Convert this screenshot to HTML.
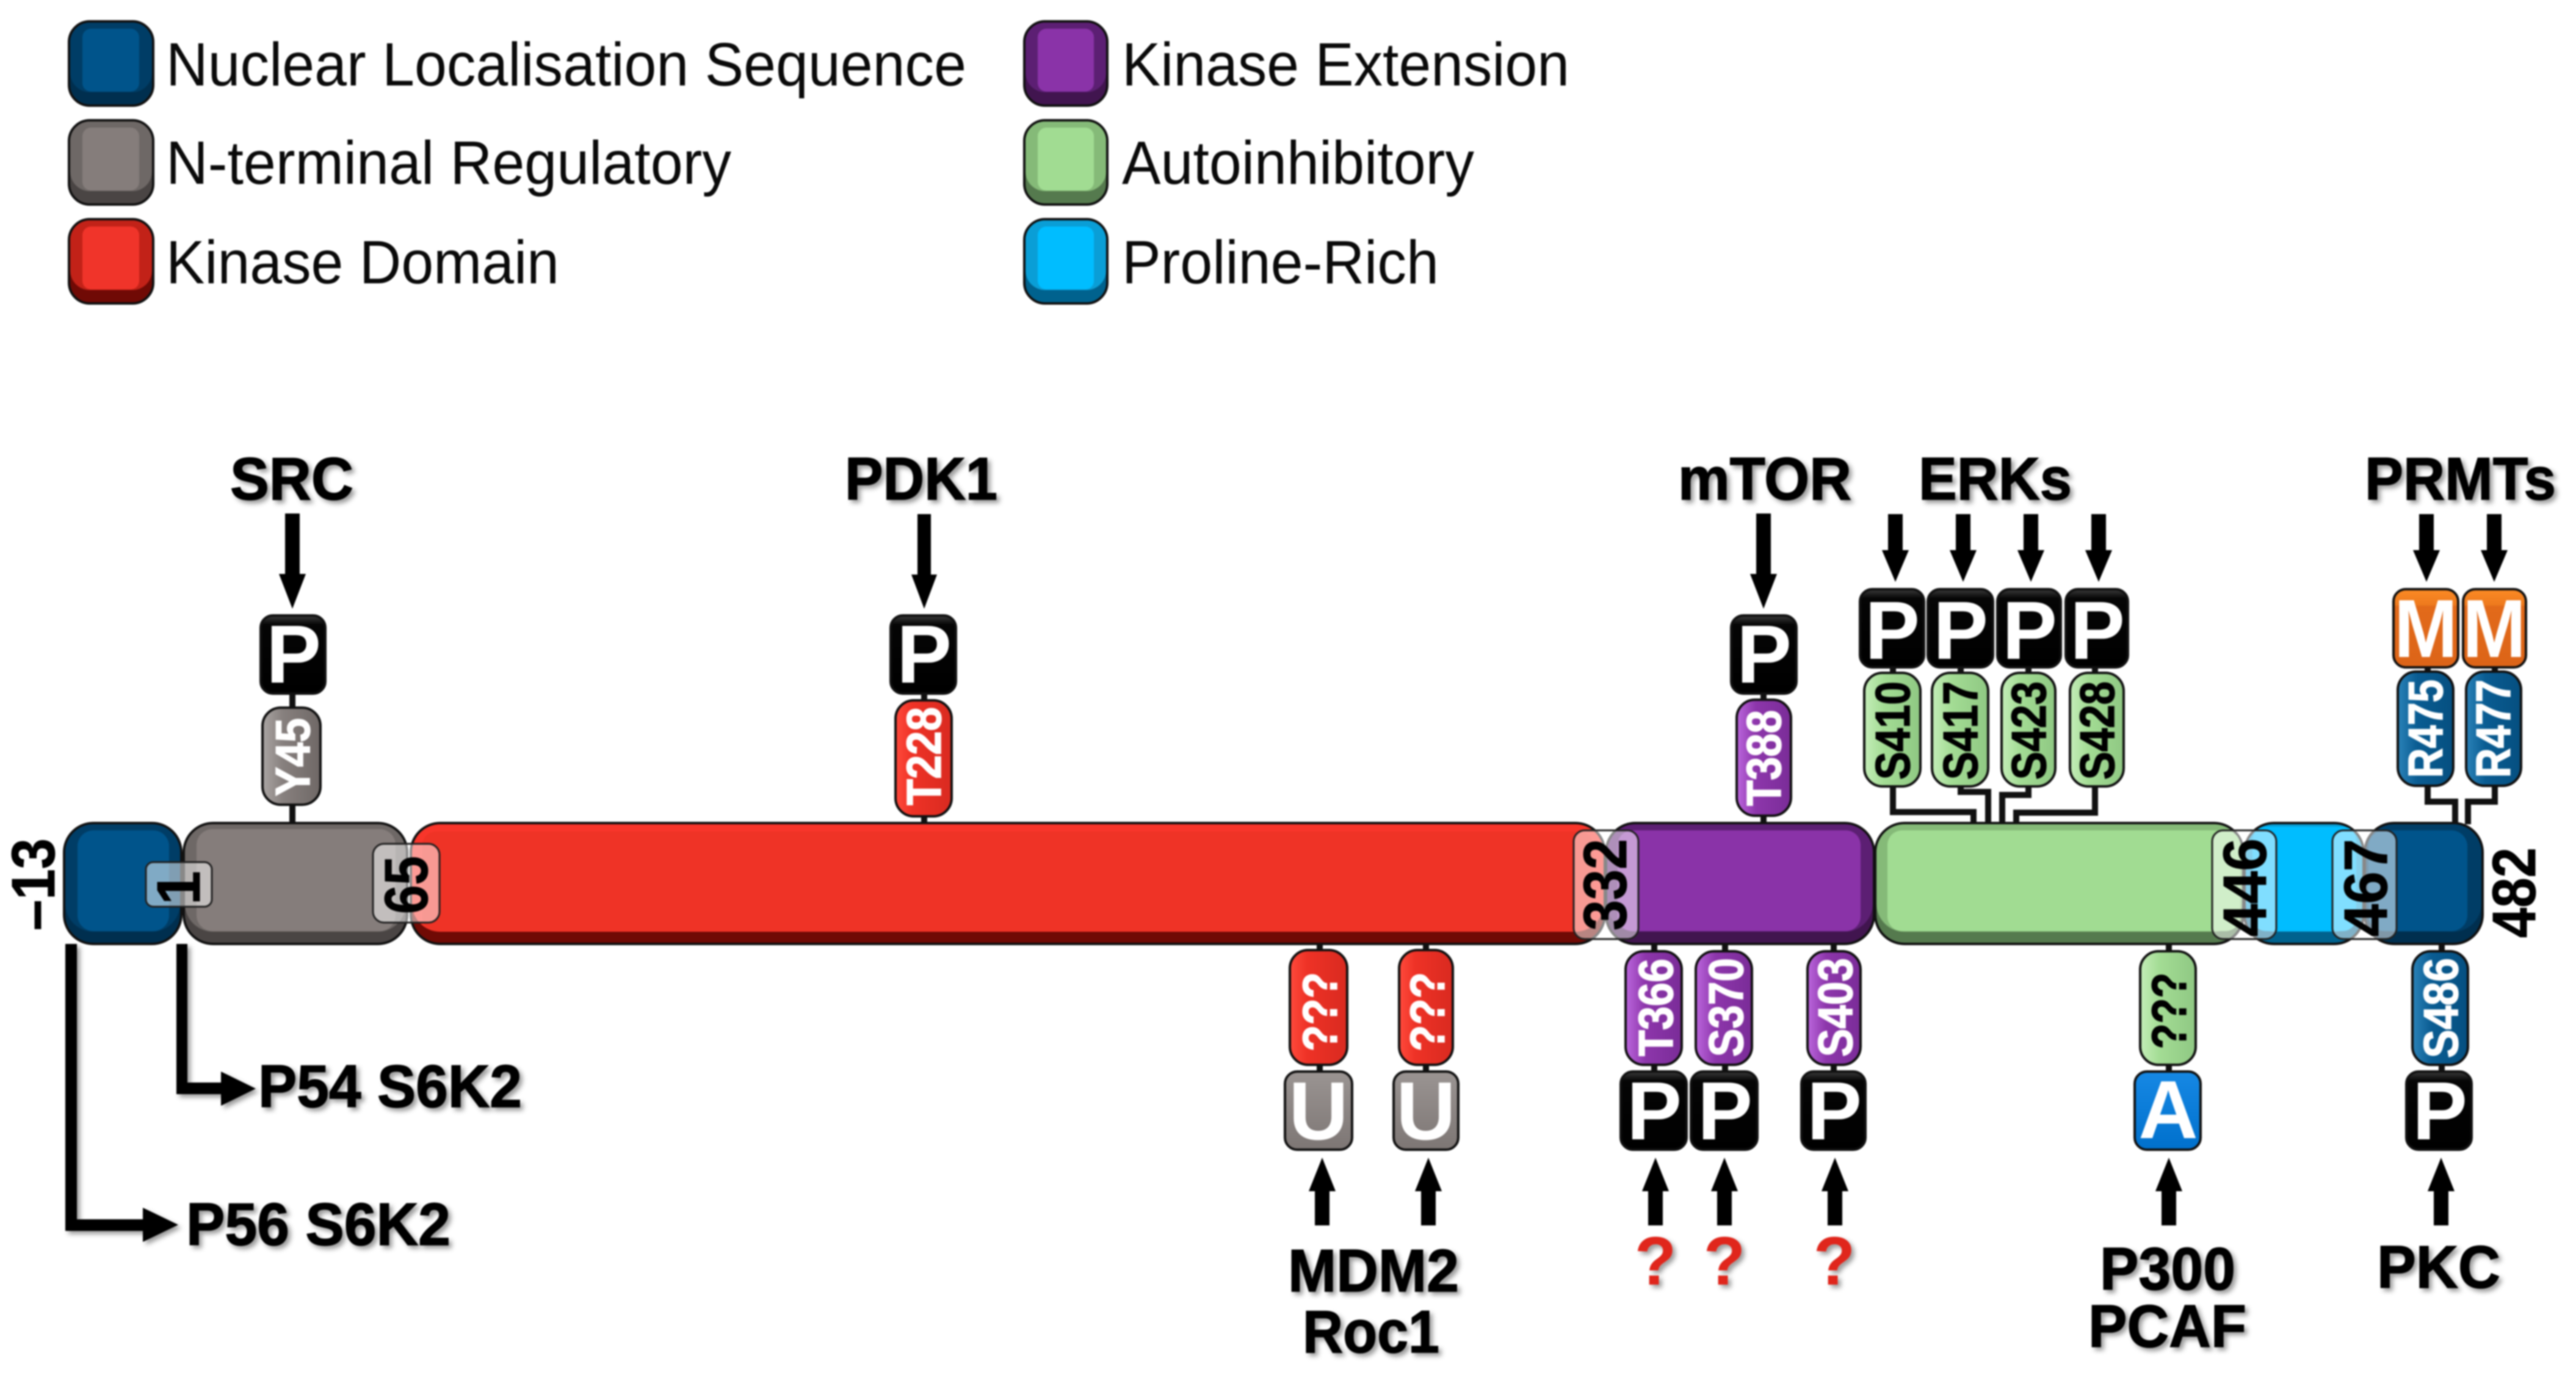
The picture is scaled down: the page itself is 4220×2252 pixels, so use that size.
<!DOCTYPE html>
<html><head><meta charset="utf-8">
<style>
html,body{margin:0;padding:0;background:#fff;width:4220px;height:2252px;overflow:hidden}
svg{display:block;filter:blur(1.4px)}
text{font-family:"Liberation Sans",sans-serif}
.lg{font-size:100px;fill:#0a0a0a}
.b{font-size:98px;font-weight:bold;fill:#000;stroke:#000;stroke-width:1.5px}
.p{font-size:80px;font-weight:bold;fill:#fff;stroke:#fff;stroke-width:1.5px}
.k{font-size:80px;font-weight:bold;fill:#000;stroke:#000;stroke-width:1.5px}
.n{font-size:100px;font-weight:bold;fill:#000;stroke:#000;stroke-width:1px}
.L{font-size:135px;font-weight:bold;fill:#fff;text-anchor:middle}
.q{font-size:112px;font-weight:bold;fill:#e0281c;text-anchor:middle}
.o{stroke:#111;stroke-width:4}
.t{fill:#fff;fill-opacity:.5;stroke:#222;stroke-width:3}
</style></head><body>
<svg xmlns="http://www.w3.org/2000/svg" width="4220" height="2252" viewBox="0 0 4220 2252">
<defs>
<filter id="sh" x="-20%" y="-20%" width="140%" height="140%"><feDropShadow dx="5" dy="5" stdDeviation="4" flood-color="#000" flood-opacity=".4"/></filter>
<linearGradient id="pR" x1="0" x2="1" y1="0" y2="0"><stop offset="0" stop-color="#ff4a3c"/><stop offset=".3" stop-color="#ee3226"/><stop offset="1" stop-color="#d92a20"/></linearGradient>
<linearGradient id="pP" x1="0" x2="1" y1="0" y2="0"><stop offset="0" stop-color="#bb66dd"/><stop offset=".35" stop-color="#8d36ab"/><stop offset="1" stop-color="#7a2c98"/></linearGradient>
<linearGradient id="pG" x1="0" x2="1" y1="0" y2="0"><stop offset="0" stop-color="#c4edb8"/><stop offset=".35" stop-color="#a3dc94"/><stop offset="1" stop-color="#8fc883"/></linearGradient>
<linearGradient id="pB" x1="0" x2="1" y1="0" y2="0"><stop offset="0" stop-color="#2a82b8"/><stop offset=".35" stop-color="#0a5c92"/><stop offset="1" stop-color="#054f80"/></linearGradient>
<linearGradient id="pN" x1="0" x2="1" y1="0" y2="0"><stop offset="0" stop-color="#aaa5a3"/><stop offset=".35" stop-color="#87807e"/><stop offset="1" stop-color="#6f6866"/></linearGradient>
<linearGradient id="bK" x1="0" x2="0" y1="0" y2="1"><stop offset="0" stop-color="#3a3a3a"/><stop offset=".12" stop-color="#050505"/><stop offset="1" stop-color="#000"/></linearGradient>
<linearGradient id="bM" x1="0" x2="0" y1="0" y2="1"><stop offset="0" stop-color="#fb8a24"/><stop offset=".2" stop-color="#ee7a1e"/><stop offset=".22" stop-color="#e26a1a"/><stop offset="1" stop-color="#dc6418"/></linearGradient>
<linearGradient id="bA" x1="0" x2="0" y1="0" y2="1"><stop offset="0" stop-color="#1688e4"/><stop offset="1" stop-color="#0070cc"/></linearGradient>
<linearGradient id="bU" x1="0" x2="0" y1="0" y2="1"><stop offset="0" stop-color="#9a9492"/><stop offset="1" stop-color="#7d7674"/></linearGradient>
</defs>
<rect width="4220" height="2252" fill="#fff"/>

<!-- LEGEND -->
<g class="o">
<rect x="113" y="35" width="138" height="138" rx="34" fill="#002f4f"/><rect x="115" y="37" width="134" height="114" rx="32" fill="#003d66" stroke="none"/><rect x="135" y="47" width="93" height="103" rx="14" fill="#00548b" stroke="none"/>
<rect x="113" y="197" width="138" height="138" rx="34" fill="#4a4544"/><rect x="115" y="199" width="134" height="114" rx="32" fill="#6e6866" stroke="none"/><rect x="135" y="209" width="93" height="103" rx="14" fill="#857d7b" stroke="none"/>
<rect x="113" y="359" width="138" height="138" rx="34" fill="#700a05"/><rect x="115" y="361" width="134" height="114" rx="32" fill="#c22218" stroke="none"/><rect x="135" y="371" width="93" height="103" rx="14" fill="#f0342a" stroke="none"/>
<rect x="1678" y="35" width="136" height="138" rx="34" fill="#41154f"/><rect x="1680" y="37" width="132" height="114" rx="32" fill="#5c1f73" stroke="none"/><rect x="1700" y="47" width="92" height="103" rx="14" fill="#8a33a8" stroke="none"/>
<rect x="1678" y="197" width="136" height="138" rx="34" fill="#557a4e"/><rect x="1680" y="199" width="132" height="114" rx="32" fill="#85ba78" stroke="none"/><rect x="1700" y="209" width="92" height="103" rx="14" fill="#a1dc92" stroke="none"/>
<rect x="1678" y="359" width="136" height="138" rx="34" fill="#00628e"/><rect x="1680" y="361" width="132" height="114" rx="32" fill="#0a9ed6" stroke="none"/><rect x="1700" y="371" width="92" height="103" rx="14" fill="#00bdff" stroke="none"/>
</g>
<text class="lg" x="272" y="140" textLength="1311" lengthAdjust="spacingAndGlyphs">Nuclear Localisation Sequence</text>
<text class="lg" x="272" y="301" textLength="926" lengthAdjust="spacingAndGlyphs">N-terminal Regulatory</text>
<text class="lg" x="272" y="464" textLength="644" lengthAdjust="spacingAndGlyphs">Kinase Domain</text>
<text class="lg" x="1838" y="140" textLength="733" lengthAdjust="spacingAndGlyphs">Kinase Extension</text>
<text class="lg" x="1838" y="301" textLength="577" lengthAdjust="spacingAndGlyphs">Autoinhibitory</text>
<text class="lg" x="1838" y="464" textLength="519" lengthAdjust="spacingAndGlyphs">Proline-Rich</text>

<!-- Isoform arrows -->
<g filter="url(#sh)" fill="#000">
<path d="M107 1546H126V1997H234V1978L292 2006 234 2034V2016H107Z"/>
<path d="M289 1546H307V1773H362V1755L419 1783 362 1811V1792H289Z"/>
</g>

<!-- stems and connectors -->
<g stroke="#111" stroke-width="10" fill="none">
<path d="M479 1136V1159M479 1318V1350"/>
<path d="M1514 1136V1147M1514 1337V1350"/>
<path d="M2889 1136V1146M2889 1336V1350"/>
<path d="M2162 1546V1556M2162 1744V1755M2336 1546V1556M2336 1744V1755"/>
<path d="M2710 1546V1558M2710 1744V1755M2826 1546V1558M2826 1744V1755M3004 1546V1558M3004 1744V1755"/>
<path d="M3553 1546V1558M3553 1744V1755M4000 1546V1558M4000 1744V1755"/>
<path d="M3101 1093V1102M3212 1093V1102M3323 1093V1102M3432 1093V1102M3977 1093V1100M4087 1093V1100"/>
<path d="M3101 1288V1330H3233V1350"/>
<path d="M3212 1288V1297H3257V1350"/>
<path d="M3323 1288V1302H3280V1350"/>
<path d="M3432 1288V1331H3303V1350"/>
<path d="M3977 1287V1313H4022V1350"/>
<path d="M4087 1287V1313H4043V1350"/>
</g>

<!-- DOMAINS -->
<g class="o">
<rect x="105" y="1348" width="192" height="198" rx="48" fill="#002f4f"/><rect x="107" y="1350" width="188" height="176" rx="46" fill="#003d66" stroke="none"/><rect x="127" y="1360" width="150" height="165" rx="26" fill="#00548b" stroke="none"/>
<rect x="301" y="1348" width="366" height="198" rx="48" fill="#4a4544"/><rect x="303" y="1350" width="362" height="176" rx="46" fill="#6e6866" stroke="none"/><rect x="322" y="1358" width="326" height="167" rx="26" fill="#857d7b" stroke="none"/>
<rect x="673" y="1348" width="1956" height="198" rx="48" fill="#700a05"/><rect x="675" y="1350" width="1952" height="176" rx="46" fill="#f8352a" stroke="none"/><rect x="692" y="1362" width="1918" height="163" rx="22" fill="#ef3326" stroke="none"/>
<rect x="2631" y="1348" width="439" height="198" rx="48" fill="#41154f"/><rect x="2633" y="1350" width="435" height="176" rx="46" fill="#5c1f73" stroke="none"/><rect x="2650" y="1360" width="398" height="165" rx="24" fill="#8a33a8" stroke="none"/>
<rect x="3072" y="1348" width="603" height="198" rx="48" fill="#557a4e"/><rect x="3074" y="1350" width="599" height="176" rx="46" fill="#85ba78" stroke="none"/><rect x="3092" y="1360" width="578" height="165" rx="24" fill="#a1dc92" stroke="none"/>
<rect x="3677" y="1348" width="195" height="198" rx="48" fill="#00628e"/><rect x="3679" y="1350" width="191" height="176" rx="46" fill="#0a9ed6" stroke="none"/><rect x="3690" y="1354" width="170" height="171" rx="22" fill="#00bdff" stroke="none"/>
<rect x="3874" y="1348" width="193" height="198" rx="48" fill="#002f4f"/><rect x="3876" y="1350" width="189" height="176" rx="46" fill="#003d66" stroke="none"/><rect x="3880" y="1360" width="162" height="165" rx="26" fill="#00548b" stroke="none"/>
</g>

<!-- position tags -->
<rect class="t" x="239" y="1412" width="108" height="73" rx="12"/>
<rect class="t" x="611" y="1382" width="109" height="129" rx="18"/>
<rect class="t" x="2578" y="1360" width="106" height="178" rx="18"/>
<rect class="t" x="3624" y="1360" width="105" height="178" rx="18"/>
<rect class="t" x="3821" y="1360" width="105" height="178" rx="18"/>
<text class="n" transform="translate(327,1482) rotate(-90)">1</text>
<text class="n" transform="translate(700,1497) rotate(-90)" textLength="95" lengthAdjust="spacingAndGlyphs">65</text>
<text class="n" transform="translate(2664,1524) rotate(-90)" textLength="150" lengthAdjust="spacingAndGlyphs">332</text>
<text class="n" transform="translate(3712,1534) rotate(-90)" textLength="161" lengthAdjust="spacingAndGlyphs">446</text>
<text class="n" transform="translate(3910,1534) rotate(-90)" textLength="160" lengthAdjust="spacingAndGlyphs">467</text>
<text class="n" transform="translate(89,1524) rotate(-90)" textLength="151" lengthAdjust="spacingAndGlyphs">–13</text>
<text class="n" transform="translate(4153,1536) rotate(-90)" textLength="148" lengthAdjust="spacingAndGlyphs">482</text>

<!-- PILLS -->
<g class="o">
<rect x="430" y="1159" width="95" height="159" rx="30" fill="url(#pN)"/>
<rect x="1467" y="1147" width="92" height="190" rx="30" fill="url(#pR)"/>
<rect x="2845" y="1146" width="89" height="190" rx="30" fill="url(#pP)"/>
<rect x="3054" y="1102" width="92" height="186" rx="30" fill="url(#pG)"/>
<rect x="3165" y="1102" width="92" height="186" rx="30" fill="url(#pG)"/>
<rect x="3279" y="1102" width="88" height="186" rx="30" fill="url(#pG)"/>
<rect x="3391" y="1102" width="88" height="186" rx="30" fill="url(#pG)"/>
<rect x="3928" y="1100" width="91" height="187" rx="30" fill="url(#pB)"/>
<rect x="4040" y="1100" width="90" height="187" rx="30" fill="url(#pB)"/>
<rect x="2113" y="1556" width="94" height="188" rx="30" fill="url(#pR)"/>
<rect x="2292" y="1556" width="88" height="188" rx="30" fill="url(#pR)"/>
<rect x="2663" y="1558" width="92" height="186" rx="30" fill="url(#pP)"/>
<rect x="2778" y="1558" width="92" height="186" rx="30" fill="url(#pP)"/>
<rect x="2961" y="1558" width="87" height="186" rx="30" fill="url(#pP)"/>
<rect x="3506" y="1558" width="91" height="186" rx="30" fill="url(#pG)"/>
<rect x="3952" y="1558" width="91" height="186" rx="30" fill="url(#pB)"/>
</g>
<text class="p" transform="translate(507,1304) rotate(-90)" textLength="128" lengthAdjust="spacingAndGlyphs">Y45</text>
<text class="p" transform="translate(1541,1319) rotate(-90)" textLength="161" lengthAdjust="spacingAndGlyphs">T228</text>
<text class="p" transform="translate(2917,1320) rotate(-90)" textLength="157" lengthAdjust="spacingAndGlyphs">T388</text>
<text class="k" transform="translate(3128,1277) rotate(-90)" textLength="161" lengthAdjust="spacingAndGlyphs">S410</text>
<text class="k" transform="translate(3239,1277) rotate(-90)" textLength="161" lengthAdjust="spacingAndGlyphs">S417</text>
<text class="k" transform="translate(3351,1277) rotate(-90)" textLength="161" lengthAdjust="spacingAndGlyphs">S423</text>
<text class="k" transform="translate(3463,1277) rotate(-90)" textLength="161" lengthAdjust="spacingAndGlyphs">S428</text>
<text class="p" transform="translate(4001,1274) rotate(-90)" textLength="161" lengthAdjust="spacingAndGlyphs">R475</text>
<text class="p" transform="translate(4112,1274) rotate(-90)" textLength="161" lengthAdjust="spacingAndGlyphs">R477</text>
<text class="p" transform="translate(2190,1722) rotate(-90)" textLength="130" lengthAdjust="spacingAndGlyphs">???</text>
<text class="p" transform="translate(2366,1722) rotate(-90)" textLength="130" lengthAdjust="spacingAndGlyphs">???</text>
<text class="p" transform="translate(2740,1730) rotate(-90)" textLength="160" lengthAdjust="spacingAndGlyphs">T366</text>
<text class="p" transform="translate(2855,1731) rotate(-90)" textLength="162" lengthAdjust="spacingAndGlyphs">S370</text>
<text class="p" transform="translate(3034,1731) rotate(-90)" textLength="162" lengthAdjust="spacingAndGlyphs">S403</text>
<text class="k" transform="translate(3581,1718) rotate(-90)" textLength="125" lengthAdjust="spacingAndGlyphs">???</text>
<text class="p" transform="translate(4026,1733) rotate(-90)" textLength="164" lengthAdjust="spacingAndGlyphs">S486</text>

<!-- MODIFICATION BOXES -->
<g class="o">
<rect x="427" y="1008" width="106" height="128" rx="20" fill="url(#bK)"/>
<rect x="1459" y="1008" width="107" height="128" rx="20" fill="url(#bK)"/>
<rect x="2836" y="1008" width="107" height="128" rx="20" fill="url(#bK)"/>
<rect x="3047" y="965" width="105" height="128" rx="20" fill="url(#bK)"/>
<rect x="3158" y="965" width="107" height="128" rx="20" fill="url(#bK)"/>
<rect x="3272" y="965" width="104" height="128" rx="20" fill="url(#bK)"/>
<rect x="3384" y="965" width="102" height="128" rx="20" fill="url(#bK)"/>
<rect x="3921" y="965" width="106" height="128" rx="20" fill="url(#bM)"/>
<rect x="4035" y="965" width="103" height="128" rx="20" fill="url(#bM)"/>
<rect x="2105" y="1755" width="110" height="128" rx="20" fill="url(#bU)"/>
<rect x="2283" y="1755" width="106" height="128" rx="20" fill="url(#bU)"/>
<rect x="2655" y="1755" width="108" height="128" rx="20" fill="url(#bK)"/>
<rect x="2770" y="1755" width="109" height="128" rx="20" fill="url(#bK)"/>
<rect x="2951" y="1755" width="105" height="128" rx="20" fill="url(#bK)"/>
<rect x="3497" y="1755" width="108" height="128" rx="20" fill="url(#bA)"/>
<rect x="3942" y="1755" width="107" height="128" rx="20" fill="url(#bK)"/>
</g>
<text class="L" x="481" y="1118">P</text>
<text class="L" x="1514" y="1118">P</text>
<text class="L" x="2890" y="1118">P</text>
<text class="L" x="3100" y="1079">P</text>
<text class="L" x="3212" y="1079">P</text>
<text class="L" x="3325" y="1079">P</text>
<text class="L" x="3436" y="1079">P</text>
<text class="L" x="3974" y="1076" textLength="104" lengthAdjust="spacingAndGlyphs">M</text>
<text class="L" x="4086" y="1076" textLength="104" lengthAdjust="spacingAndGlyphs">M</text>
<text class="L" x="2160" y="1866">U</text>
<text class="L" x="2336" y="1866">U</text>
<text class="L" x="2710" y="1866">P</text>
<text class="L" x="2826" y="1866">P</text>
<text class="L" x="3005" y="1866">P</text>
<text class="L" x="3552" y="1864">A</text>
<text class="L" x="3997" y="1866">P</text>

<!-- Arrows -->
<g fill="#000">
<path d="M467 841H491V940H501L479 997 457 940H467Z"/>
<path d="M1503 842H1525V941H1535L1514 997 1493 941H1503Z"/>
<path d="M2877 841H2901V940H2911L2889 997 2867 940H2877Z"/>
<path d="M3093 842H3117V901H3127L3105 953 3083 901H3093Z"/>
<path d="M3204 842H3228V901H3238L3216 953 3194 901H3204Z"/>
<path d="M3315 842H3339V901H3349L3327 953 3305 901H3315Z"/>
<path d="M3426 842H3450V901H3460L3438 953 3416 901H3426Z"/>
<path d="M3963 842H3987V901H3997L3975 953 3953 901H3963Z"/>
<path d="M4074 842H4098V901H4108L4086 953 4064 901H4074Z"/>
<path d="M2154 2007V1951H2144L2166 1896 2188 1951H2178V2007Z"/>
<path d="M2328 2007V1951H2318L2340 1896 2362 1951H2352V2007Z"/>
<path d="M2700 2007V1951H2690L2712 1896 2734 1951H2724V2007Z"/>
<path d="M2813 2007V1951H2803L2825 1896 2847 1951H2837V2007Z"/>
<path d="M2994 2007V1951H2984L3006 1896 3028 1951H3018V2007Z"/>
<path d="M3541 2007V1951H3531L3553 1896 3575 1951H3565V2007Z"/>
<path d="M3987 2007V1951H3977L3999 1896 4021 1951H4011V2007Z"/>
</g>

<!-- Labels -->
<g filter="url(#sh)">
<text class="b" x="377" y="818" textLength="202" lengthAdjust="spacingAndGlyphs">SRC</text>
<text class="b" x="1384" y="818" textLength="250" lengthAdjust="spacingAndGlyphs">PDK1</text>
<text class="b" x="2749" y="818" textLength="284" lengthAdjust="spacingAndGlyphs">mTOR</text>
<text class="b" x="3143" y="818" textLength="251" lengthAdjust="spacingAndGlyphs">ERKs</text>
<text class="b" x="3874" y="818" textLength="313" lengthAdjust="spacingAndGlyphs">PRMTs</text>
<text class="b" x="423" y="1813" textLength="432" lengthAdjust="spacingAndGlyphs">P54 S6K2</text>
<text class="b" x="305" y="2039" textLength="433" lengthAdjust="spacingAndGlyphs">P56 S6K2</text>
<text class="b" x="2110" y="2115" textLength="280" lengthAdjust="spacingAndGlyphs">MDM2</text>
<text class="b" x="2134" y="2215" textLength="224" lengthAdjust="spacingAndGlyphs">Roc1</text>
<text class="b" x="3440" y="2112" textLength="222" lengthAdjust="spacingAndGlyphs">P300</text>
<text class="b" x="3421" y="2206" textLength="259" lengthAdjust="spacingAndGlyphs">PCAF</text>
<text class="b" x="3894" y="2109" textLength="202" lengthAdjust="spacingAndGlyphs">PKC</text>
<text class="q" x="2712" y="2104">?</text>
<text class="q" x="2825" y="2104">?</text>
<text class="q" x="3005" y="2104">?</text>
</g>
</svg>
</body></html>
